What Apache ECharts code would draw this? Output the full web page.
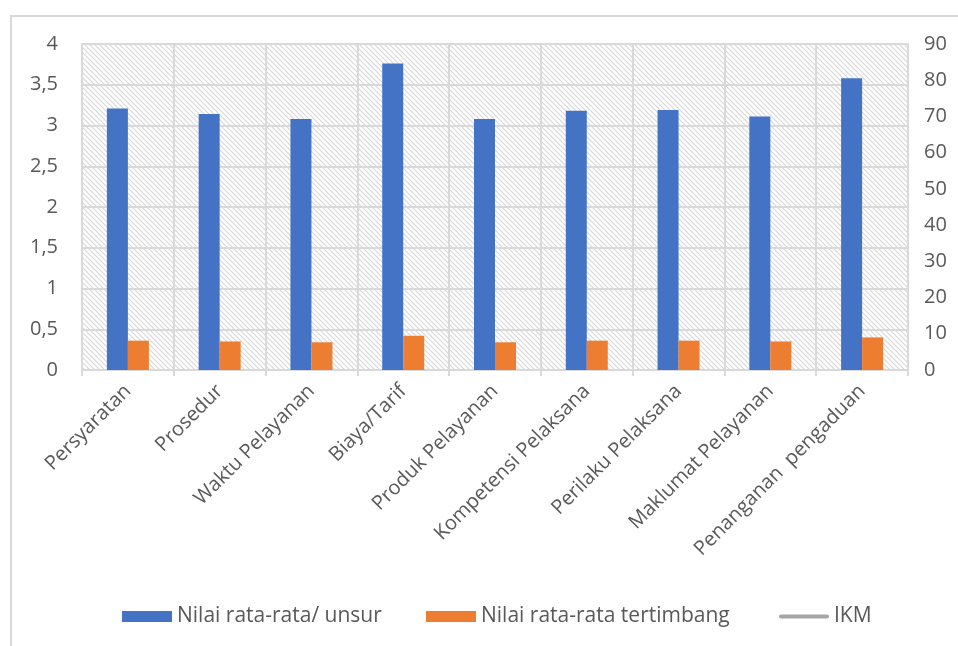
<!DOCTYPE html>
<html>
<head>
<meta charset="utf-8">
<script src="https://cdn.jsdelivr.net/npm/echarts@6/dist/echarts.min.js"></script>
<style>
  html, body { margin: 0; padding: 0; background: #fff; }
  #chart { width: 958px; height: 646px; }
</style>
</head>
<body>
<div id="chart"></div>
<script>
// Service elements (unsur pelayanan)
const categories = [
  'Persyaratan', 'Prosedur', 'Waktu Pelayanan', 'Biaya/Tarif', 'Produk Pelayanan',
  'Kompetensi Pelaksana', 'Perilaku Pelaksana', 'Maklumat Pelayanan', 'Penanganan  pengaduan'
];
// Average score per element
const nilaiUnsur = [3.21, 3.14, 3.08, 3.76, 3.08, 3.18, 3.19, 3.11, 3.58];
// Weighted average score per element
const nilaiTertimbang = [0.36, 0.35, 0.34, 0.42, 0.34, 0.36, 0.36, 0.35, 0.40];
// Overall index (right axis)
const ikm = [];

const seriesNames = ['Nilai rata-rata/ unsur', 'Nilai rata-rata tertimbang', 'IKM'];

const leftTicks = { min: 0, max: 4, interval: 0.5 };
const rightTicks = { min: 0, max: 90, interval: 10 };

const FONT = '"Open Sans", sans-serif';
const TEXT = '#595959';
const GRIDLINE = '#d9d9d9';

// Diagonal hatch fill for the plot area
function hatch() {
  const s = 5;
  const c = document.createElement('canvas');
  c.width = s; c.height = s;
  const g = c.getContext('2d');
  g.fillStyle = '#ffffff';
  g.fillRect(0, 0, s, s);
  g.strokeStyle = '#d8d8d8';
  g.lineWidth = 1.2;
  g.beginPath();
  g.moveTo(-1, -1); g.lineTo(s + 1, s + 1);
  g.moveTo(-1, s - 1); g.lineTo(1, s + 1);
  g.moveTo(s - 1, -1); g.lineTo(s + 1, 1);
  g.stroke();
  return c;
}

// One legend entry per component so each sits at its own spot
function legendEntry(name, icon, left) {
  return {
    top: 606, left: left, padding: 0,
    itemWidth: 50, itemHeight: 11,
    textStyle: { fontFamily: FONT, fontSize: 21, color: TEXT },
    data: [{ name: name, icon: icon }]
  };
}

const chart = echarts.init(document.getElementById('chart'), null, { renderer: 'canvas' });
chart.setOption({
  animation: false,
  backgroundColor: '#ffffff',
  textStyle: { fontFamily: FONT },
  graphic: [{
    type: 'polyline',
    shape: { points: [[11, 700], [11, 16], [1000, 16]] },
    style: { stroke: GRIDLINE, lineWidth: 2, fill: null },
    silent: true
  }],
  grid: {
    left: 82, right: 50, top: 44, bottom: 276,
    show: true,
    backgroundColor: { image: hatch(), repeat: 'repeat' },
    borderColor: GRIDLINE, borderWidth: 2
  },
  legend: [
    legendEntry(seriesNames[0], 'rect', 122),
    legendEntry(seriesNames[1], 'rect', 426),
    legendEntry(seriesNames[2], 'path://M2,0H46A2,2,0,0,1,46,4H2A2,2,0,0,1,2,0Z', 779)
  ],
  xAxis: {
    type: 'category',
    data: categories,
    boundaryGap: true,
    axisLine: { lineStyle: { color: GRIDLINE, width: 2 } },
    axisTick: { show: true, length: 6, lineStyle: { color: GRIDLINE, width: 2 } },
    splitLine: { show: true, lineStyle: { color: GRIDLINE, width: 2 } },
    axisLabel: {
      interval: 0, rotate: 45, margin: 18,
      fontFamily: FONT, fontSize: 20, color: TEXT
    }
  },
  yAxis: [{
    type: 'value',
    min: leftTicks.min, max: leftTicks.max, interval: leftTicks.interval,
    axisLine: { show: false },
    axisTick: { show: false },
    splitLine: { lineStyle: { color: GRIDLINE, width: 2 } },
    axisLabel: {
      margin: 24, fontFamily: FONT, fontSize: 20, color: TEXT,
      formatter: v => String(v).replace('.', ',')
    }
  }, {
    type: 'value',
    min: rightTicks.min, max: rightTicks.max, interval: rightTicks.interval,
    axisLine: { show: false },
    axisTick: { show: false },
    splitLine: { show: false },
    axisLabel: { margin: 16, fontFamily: FONT, fontSize: 20, color: TEXT }
  }],
  series: [{
    name: seriesNames[0],
    type: 'bar',
    data: nilaiUnsur,
    barWidth: 21,
    barGap: '0%',
    itemStyle: { color: '#4472C4' }
  }, {
    name: seriesNames[1],
    type: 'bar',
    data: nilaiTertimbang,
    barWidth: 21,
    barGap: '0%',
    itemStyle: { color: '#ED7D31' }
  }, {
    name: seriesNames[2],
    type: 'line',
    yAxisIndex: 1,
    data: ikm,
    symbol: 'none',
    lineStyle: { color: '#A5A5A5', width: 4 },
    itemStyle: { color: '#A5A5A5' }
  }]
});
</script>
</body>
</html>
